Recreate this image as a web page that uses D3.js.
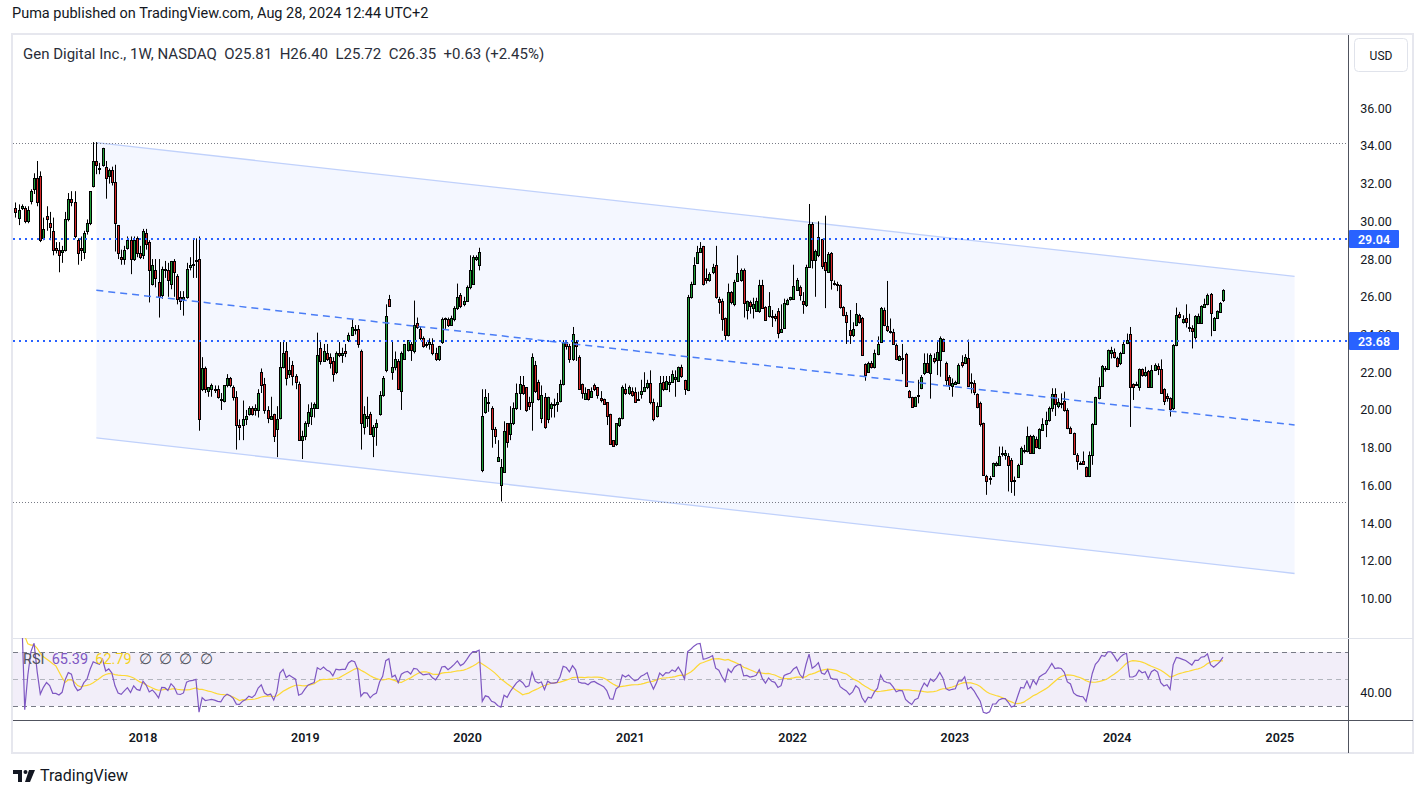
<!DOCTYPE html>
<html>
<head>
<meta charset="utf-8">
<script src="https://d3js.org/d3.v7.min.js"></script>
<style>
  body { margin: 0; background: #fff; }
  svg { display: block; font-family: Roboto, "Liberation Sans", sans-serif; }
</style>
</head>
<body>
<script type="text/javascript">

// weekly candles [open, high, low, close], first week starts 2017-03-20
var firstWeek = new Date(2017, 2, 20);
var candles = [
[30.7,31.0,30.2,30.5],[30.2,30.9,29.8,30.6],[30.7,30.9,30.6,30.8],[30.7,30.8,29.9,30.0],[30.0,30.8,29.9,30.6],
[31.1,31.7,30.9,31.6],[31.7,32.55,31.45,32.3],[32.3,33.2,30.8,31.0],[32.4,32.65,28.9,29.0],[29.1,30.2,29.0,29.6],
[30.3,30.8,29.5,30.1],[29.9,30.5,29.0,29.7],[29.5,30.2,28.2,28.5],[28.6,28.9,28.3,28.5],[28.5,28.9,27.3,28.2],
[28.4,28.7,27.8,28.5],[28.5,30.5,28.4,30.1],[30.1,31.5,30.0,31.2],[31.2,31.6,30.8,31.0],[31.0,31.6,29.1,29.2],
[29.0,29.1,27.7,28.3],[28.6,29.2,27.9,28.5],[28.4,29.5,28.0,29.4],[29.5,30.1,29.3,29.9],[29.9,31.6,29.8,31.6],
[31.9,34.2,31.8,33.2],[33.2,34.2,32.5,33.0],[32.8,33.1,32.5,32.85],[33.0,33.9,32.9,33.9],[32.9,33.2,31.2,32.3],
[32.4,32.8,32.0,32.7],[32.7,32.9,31.9,32.1],[32.1,33.0,28.4,29.9],[29.8,29.8,28.0,28.3],[28.1,28.5,27.7,28.0],
[28.0,28.7,27.7,28.5],[28.6,29.2,28.5,29.0],[29.0,29.2,27.2,28.0],[28.0,29.2,27.9,29.0],[29.1,29.2,28.1,28.3],
[28.3,28.7,28.0,28.1],[28.2,29.6,28.0,29.5],[29.4,29.6,28.5,28.8],[28.9,29.0,25.7,27.4],[26.7,28.0,26.6,27.7],
[27.4,28.0,26.5,27.0],[26.8,28.0,24.9,26.0],[26.1,27.6,25.9,27.5],[27.4,27.9,27.0,27.45],[27.4,27.8,26.0,26.9],
[26.7,27.9,26.4,27.9],[27.9,28.0,26.0,27.3],[27.1,27.2,25.6,25.9],[26.0,26.3,25.3,25.8],[25.9,26.3,25.0,26.0],
[26.0,27.8,25.9,27.5],[27.6,28.1,27.4,27.7],[27.7,29.1,27.0,27.75],[27.95,29.1,27.0,27.9],[28.0,29.2,18.9,19.5],
[21.1,22.8,21.0,22.2],[22.2,22.3,20.9,21.1],[21.0,21.2,20.7,21.2],[21.1,21.4,20.7,21.3],[21.1,21.3,20.9,21.1],
[21.1,21.3,20.6,20.7],[20.6,20.9,20.0,20.55],[20.5,21.3,20.4,21.3],[21.3,21.9,21.2,21.7],[21.7,21.75,21.2,21.3],
[21.2,21.3,20.5,20.7],[20.7,21.0,17.9,19.2],[19.2,19.5,18.4,19.1],[19.2,20.5,18.4,19.5],[19.5,20.0,19.2,19.7],
[19.8,20.2,19.7,20.1],[20.1,20.2,19.7,19.8],[20.0,20.3,19.7,20.1],[20.0,21.1,19.6,20.9],[22.0,22.2,20.9,21.3],
[21.4,21.7,19.8,20.0],[20.0,20.2,19.3,19.6],[19.5,20.7,19.5,19.7],[19.8,19.8,18.3,18.6],[19.0,20.2,17.5,19.5],
[19.6,23.6,19.5,22.3],[22.3,23.7,22.2,23.0],[23.1,23.6,21.3,21.7],[21.9,22.8,21.7,22.1],[22.4,22.6,21.3,21.8],
[21.8,21.9,21.1,21.5],[21.4,21.5,18.4,18.4],[18.4,18.9,17.4,18.6],[18.6,19.4,18.4,19.3],[19.3,20.3,19.1,19.9],
[19.7,20.4,19.2,20.1],[20.1,20.4,19.6,20.3],[20.1,24.1,20.1,22.9],[23.3,23.6,22.4,22.6],[22.6,23.5,22.6,23.1],
[23.0,23.5,22.6,22.7],[22.8,23.0,22.2,22.5],[22.6,22.8,21.5,21.9],[22.0,23.1,21.9,23.0],[23.0,23.6,22.8,22.9],
[22.9,23.3,22.5,23.0],[23.1,23.5,22.8,23.0],[23.7,24.1,23.6,24.0],[24.0,24.8,24.0,24.4],[24.3,24.5,24.0,24.3],
[24.3,24.5,23.3,23.5],[23.1,23.2,17.9,19.3],[19.1,20.2,18.7,19.8],[19.6,20.7,19.1,19.7],[19.8,19.9,18.7,18.7],
[18.6,19.2,17.5,19.1],[19.1,19.5,18.1,19.3],[19.8,21.0,19.7,20.8],[20.8,21.8,20.7,21.7],[22.1,25.6,22.0,25.0],
[25.9,26.1,25.5,25.5],[22.0,23.7,21.6,22.3],[22.3,23.1,22.1,22.7],[22.6,22.7,21.1,21.1],[21.0,23.1,20.0,23.0],
[22.7,23.5,22.7,23.5],[23.2,23.7,23.1,23.7],[23.5,23.6,22.6,23.2],[23.1,25.8,23.0,24.5],[24.6,24.9,24.3,24.4],
[24.3,24.4,23.7,23.8],[23.8,23.9,23.3,23.4],[23.5,23.6,23.3,23.5],[23.5,23.8,23.2,23.6],[23.5,23.8,22.9,23.0],
[23.0,23.3,22.6,22.7],[22.7,23.4,22.6,23.4],[23.6,24.9,23.5,24.8],[24.8,24.9,24.3,24.9],[24.8,24.9,24.4,24.5],
[24.5,25.0,24.5,24.9],[24.8,25.5,24.7,25.4],[25.4,26.7,25.3,26.0],[26.1,26.2,25.4,25.5],[25.6,26.0,25.5,25.8],
[25.8,26.6,25.8,26.5],[26.5,28.2,26.4,27.4],[26.7,28.2,26.7,28.1],[28.0,28.2,27.9,28.1],[27.7,28.6,27.4,28.4],
[16.8,21.1,16.7,19.7],[19.9,21.1,19.8,20.7],[20.4,20.9,19.9,20.4],[20.1,20.2,18.0,19.0],[19.0,19.1,18.2,18.6],
[17.3,18.4,17.3,17.5],[16.0,17.4,15.15,17.0],[16.7,19.4,16.7,18.9],[19.3,19.3,18.0,18.3],[18.7,20.2,18.4,19.3],
[19.3,20.4,19.2,20.1],[20.1,21.4,20.0,20.9],[20.9,21.8,20.0,21.4],[21.3,21.8,20.8,20.9],[21.2,21.2,19.9,20.0],
[20.4,20.7,20.0,20.2],[20.4,23.0,18.9,22.8],[22.4,22.6,20.9,21.0],[21.5,21.6,20.5,20.6],[19.6,21.3,19.3,20.8],
[20.7,20.9,19.0,19.1],[19.5,20.7,19.3,20.7],[20.1,20.4,19.6,20.3],[20.3,20.6,19.6,20.3],[20.3,20.9,19.9,20.4],
[20.5,21.6,20.4,21.4],[21.4,23.7,21.3,23.6],[23.6,23.7,23.2,23.4],[23.4,23.5,22.5,22.7],[22.7,24.4,22.6,24.05],
[23.6,23.7,22.6,23.4],[22.8,22.9,21.1,21.1],[21.4,21.4,20.6,20.9],[20.6,21.2,20.6,20.9],[21.1,21.1,20.5,20.6],
[20.7,21.2,20.7,21.0],[21.3,21.4,21.0,21.1],[21.2,21.2,20.6,20.8],[20.65,21.0,20.4,20.55],[20.6,20.6,20.3,20.3],
[20.4,20.4,19.2,19.7],[19.8,19.8,18.2,18.2],[18.4,18.4,18.1,18.1],[18.2,19.3,18.1,19.3],[19.2,19.6,19.1,19.6],
[19.6,21.3,19.5,21.2],[21.1,21.4,20.8,20.9],[20.9,21.3,20.8,21.2],[21.0,21.2,20.7,20.8],[20.97,21.2,20.4,20.44],
[20.6,20.97,20.5,20.6],[20.85,21.6,20.6,21.0],[21.0,22.0,20.95,21.2],[21.2,21.6,21.1,21.45],[21.45,22.1,20.3,20.4],
[20.4,20.6,19.4,19.5],[19.7,20.4,19.6,20.2],[20.2,21.8,20.2,21.45],[21.5,21.8,21.0,21.1],[21.1,21.8,21.05,21.55],
[21.4,21.8,20.95,21.5],[21.5,22.1,21.5,21.9],[21.65,22.1,20.7,21.75],[21.55,22.3,21.5,22.3],[22.3,22.4,21.7,21.8],
[21.6,21.6,20.8,21.1],[21.05,26.1,21.0,26.0],[26.0,26.8,25.9,26.7],[26.7,28.1,26.7,27.66],[27.8,28.7,27.8,28.4],
[28.4,28.9,28.4,28.6],[28.7,28.7,26.6,26.7],[27.0,27.5,26.7,26.9],[26.9,27.3,26.8,27.2],[27.3,27.75,27.2,27.6],
[27.7,28.7,25.9,26.0],[25.9,26.0,25.1,25.7],[25.8,25.9,24.2,24.8],[24.85,24.9,23.7,23.96],[23.96,26.7,23.9,26.25],
[26.25,26.3,25.6,25.7],[25.6,26.9,25.5,26.8],[26.84,28.2,26.8,27.26],[26.9,27.5,26.8,27.4],[27.43,27.5,24.9,25.67],
[25.32,25.8,24.8,25.76],[25.7,25.8,25.1,25.5],[25.4,25.95,24.85,25.6],[25.25,25.95,25.2,25.78],[25.25,26.9,25.15,26.64],
[26.64,26.9,25.4,25.43],[25.46,25.5,24.76,24.76],[24.97,26.25,24.9,25.5],[25.0,25.3,24.4,25.0],[25.0,25.1,24.7,24.85],
[25.25,25.4,23.8,24.09],[24.14,25.6,24.09,24.3],[24.37,25.9,24.3,25.67],[25.6,25.9,25.55,25.85],[25.9,26.0,25.8,26.0],
[25.9,27.7,25.85,26.57],[26.38,27.0,26.35,26.87],[26.5,26.6,25.8,26.08],[25.76,26.25,25.1,25.64],[25.55,27.7,25.46,27.6],
[27.58,30.92,27.55,29.87],[29.87,29.95,27.5,27.96],[27.93,28.5,26.0,28.42],[28.19,30.0,28.1,29.16],[29.07,29.07,27.47,27.61],
[27.84,30.3,25.4,27.4],[27.3,28.37,27.26,28.28],[28.3,28.37,26.38,26.9],[26.7,26.87,26.6,26.72],[26.66,26.8,26.3,26.7],
[26.6,26.66,25.37,25.46],[25.46,25.5,24.97,25.02],[25.02,25.2,23.5,24.67],[24.26,25.3,23.5,23.96],[23.96,24.65,23.87,24.3],
[24.49,25.67,24.44,25.07],[25.02,25.1,24.58,24.67],[24.85,24.93,22.9,22.94],[22.43,22.47,21.55,21.85],[22.03,22.56,21.97,22.47],
[22.47,22.6,22.2,22.29],[22.29,23.2,22.2,23.03],[22.96,23.9,22.9,23.5],[23.61,25.46,23.56,25.43],[25.28,25.43,24.44,24.49],
[24.44,26.84,24.14,24.23],[24.19,24.85,24.05,24.14],[24.14,24.3,23.49,23.52],[23.44,23.52,22.64,22.68],[22.64,22.9,22.6,22.85],
[22.75,23.5,21.9,22.78],[22.99,23.03,21.23,21.27],[21.02,21.06,20.62,20.67],[20.67,20.7,20.14,20.18],[20.2,20.7,20.18,20.67],
[20.8,21.6,20.35,20.8],[21.15,21.85,21.1,21.76],[21.94,23.0,21.85,22.5],[22.5,23.0,21.97,22.03],[21.94,23.0,20.6,22.94],
[22.78,23.0,22.47,22.61],[22.64,23.6,21.85,23.08],[22.64,23.9,21.76,23.79],[23.74,23.79,23.08,23.14],[22.5,22.56,21.32,21.6],
[21.73,21.85,21.06,21.32],[21.27,21.67,20.7,21.44],[21.4,21.55,21.35,21.5],[21.45,22.47,21.4,22.38],[22.55,22.9,22.25,22.38],
[22.47,22.96,22.43,22.82],[22.78,23.73,21.23,21.27],[21.5,21.94,20.88,21.5],[21.44,21.58,20.79,20.97],[20.85,20.88,20.09,20.14],
[20.35,20.44,19.12,19.26],[19.3,19.33,16.51,16.56],[16.51,16.56,15.5,16.26],[16.4,16.5,16.04,16.4],[16.51,17.21,16.48,17.18],
[17.1,17.26,17.0,17.2],[17.09,18.06,17.04,17.57],[17.7,18.06,17.53,17.7],[17.62,17.88,17.36,17.71],[17.57,17.71,15.68,17.09],
[17.36,17.45,15.6,16.21],[16.25,16.47,15.45,16.3],[16.47,17.15,16.44,17.09],[17.15,18.06,17.09,17.97],[17.85,18.15,17.7,17.88],
[17.8,19.12,17.75,18.63],[18.63,18.68,17.67,17.71],[17.71,18.68,17.67,18.63],[18.45,18.59,17.97,18.06],[17.97,19.03,17.92,18.98],
[18.94,19.56,18.9,19.26],[19.26,19.91,18.56,19.47],[19.47,20.18,19.38,20.09],[20.09,21.15,19.91,20.83],[20.83,21.15,19.68,20.32],
[20.2,20.62,20.09,20.4],[20.3,20.88,20.09,20.35],[20.49,20.97,19.91,20.0],[20.0,20.09,18.98,19.03],[19.03,19.12,18.76,18.8],
[18.76,18.8,17.62,17.67],[17.62,17.71,16.83,17.32],[17.2,17.27,17.1,17.18],[17.27,17.8,17.09,17.13],[16.97,17.0,16.44,16.48],
[16.48,17.8,16.44,17.62],[17.62,19.3,17.09,19.26],[19.26,20.7,19.21,20.67],[20.62,21.73,20.56,21.27],[21.27,22.38,21.23,22.33],
[22.2,22.33,22.03,22.25],[22.15,23.2,22.12,23.17],[23.03,23.35,22.73,23.17],[23.08,23.26,22.73,22.82],[22.73,22.82,22.26,22.33],
[22.47,23.08,22.38,23.03],[23.03,23.61,22.99,23.49],[23.56,24.05,23.49,23.73],[24.02,24.4,19.1,21.2],[21.37,21.41,20.53,21.2],
[21.37,21.5,21.27,21.4],[21.23,22.2,21.02,22.15],[22.15,22.2,21.76,21.85],[21.85,22.29,21.76,22.0],[22.08,22.12,21.2,21.23],
[21.23,22.38,21.2,22.12],[22.12,22.47,22.08,22.38],[22.33,22.47,21.85,22.15],[22.15,22.68,20.88,20.92],[21.09,21.15,20.26,20.49],
[20.74,20.88,20.44,20.62],[20.62,20.67,19.65,20.03],[20.09,23.49,20.0,23.44],[23.44,25.43,23.38,25.02],[25.07,25.2,24.85,24.93],
[24.67,25.02,24.58,24.8],[24.9,25.6,24.37,24.67],[24.4,25.1,24.14,24.42],[24.37,24.49,23.26,24.19],[23.88,25.02,23.73,24.97],
[24.6,25.11,24.58,24.97],[24.6,25.55,24.58,25.5],[25.46,25.9,25.43,25.6],[25.6,26.17,25.55,26.08],[26.17,26.2,23.91,25.14],
[24.26,24.93,24.23,24.9],[24.9,25.28,24.84,25.25],[25.2,25.72,25.14,25.67],[25.81,26.40,25.72,26.35]
];

var priceTicks = [10, 12, 14, 16, 18, 20, 22, 24, 26, 28, 30, 32, 34, 36];
var yearTicks = [2018, 2019, 2020, 2021, 2022, 2023, 2024, 2025];
var levels = [29.04, 23.68];            // blue dotted lines
var extremes = [34.17, 15.11];          // grey dotted lines
var channelDates = [new Date(2017, 8, 18), new Date(2025, 1, 3)];
var channelUpper = [34.17, 27.08];
var channelLower = [18.52, 11.33];
var rsiBands = [70, 50, 30];
var rsiTicks = [40];
var legendText = "Gen Digital Inc., 1W, NASDAQ  O25.81  H26.40  L25.72  C26.35  +0.63 (+2.45%)";
var rsiLegend = ["65.39", "62.79"];

function draw() {
    var width = 1426, height = 798;
    var left = 13, right = 1348, top = 35, paneBottom = 638, rsiBottom = 720;

    var svg = d3.select('body').append('svg')
        .attr('width', width).attr('height', height);

    var weeks = candles.map(function(d, i) { return d3.timeWeek.offset(firstWeek, i); });

    var x = d3.scaleTime().domain([weeks[0], weeks[weeks.length - 1]]).range([15.4, 1223]);
    var y = d3.scaleLinear().domain([7.91, 39.88]).range([paneBottom, top]);
    var yr = d3.scaleLinear().domain([19.6, 80.4]).range([rsiBottom, paneBottom]);

    var defs = svg.append('defs');
    defs.append('clipPath').attr('id', 'clipPrice').append('rect')
        .attr('x', left).attr('y', top).attr('width', right - left).attr('height', paneBottom - top);
    defs.append('clipPath').attr('id', 'clipRsi').append('rect')
        .attr('x', left).attr('y', paneBottom).attr('width', right - left).attr('height', rsiBottom - paneBottom);

    // header
    svg.append('text').attr('x', 12).attr('y', 18)
        .attr('font-size', 14.5).attr('fill', '#131722')
        .text('Puma published on TradingView.com, Aug 28, 2024 12:44 UTC+2');

    // frame
    svg.append('rect').attr('x', 12).attr('y', 34).attr('width', 1401).attr('height', 719)
        .attr('fill', 'none').attr('stroke', '#e6e7ee').attr('stroke-width', 2);

    var price = svg.append('g').attr('clip-path', 'url(#clipPrice)');

    // channel
    var cu = channelUpper.map(function(v, i) { return [x(channelDates[i]), y(v)]; });
    var cl = channelLower.map(function(v, i) { return [x(channelDates[i]), y(v)]; });
    price.append('path')
        .attr('d', d3.line()([cu[0], cu[1], cl[1], cl[0]]) + 'Z')
        .attr('fill', 'rgba(41,98,255,0.05)');
    [cu, cl].forEach(function(p) {
        price.append('path').attr('d', d3.line()(p))
            .attr('stroke', '#c0d1fb').attr('stroke-width', 1.3).attr('fill', 'none');
    });

    // candles
    var bars = price.selectAll('.candle').data(candles).enter().append('g').attr('class', 'candle');
    bars.append('line')
        .attr('x1', function(d, i) { return Math.round(x(weeks[i])) + 0.5; })
        .attr('x2', function(d, i) { return Math.round(x(weeks[i])) + 0.5; })
        .attr('y1', function(d) { return y(d[1]); })
        .attr('y2', function(d) { return y(d[2]); })
        .attr('stroke', '#000').attr('stroke-width', 1);
    bars.append('rect')
        .attr('x', function(d, i) { return Math.round(x(weeks[i])) - 0.5; })
        .attr('y', function(d) { return Math.round(y(Math.max(d[0], d[3]))) + 0.5; })
        .attr('width', 2)
        .attr('height', function(d) {
            return Math.max(Math.round(y(Math.min(d[0], d[3]))) - Math.round(y(Math.max(d[0], d[3]))), 1);
        })
        .attr('fill', function(d) { return d[3] >= d[0] ? '#1f9d37' : '#d62828'; })
        .attr('stroke', '#000').attr('stroke-width', 1);

    // drawings
    extremes.forEach(function(v) {
        price.append('line').attr('x1', left).attr('x2', right)
            .attr('y1', Math.round(y(v)) + 0.5).attr('y2', Math.round(y(v)) + 0.5)
            .attr('stroke', '#787b86').attr('stroke-dasharray', '1 2');
    });
    price.append('line')
        .attr('x1', x(channelDates[0])).attr('x2', x(channelDates[1]))
        .attr('y1', y((channelUpper[0] + channelLower[0]) / 2))
        .attr('y2', y((channelUpper[1] + channelLower[1]) / 2))
        .attr('stroke', '#4a7df6').attr('stroke-width', 1.5).attr('stroke-dasharray', '7 5');
    levels.forEach(function(v) {
        price.append('line').attr('x1', left).attr('x2', right)
            .attr('y1', Math.round(y(v))).attr('y2', Math.round(y(v)))
            .attr('stroke', '#2962ff').attr('stroke-width', 2).attr('stroke-dasharray', '2 4');
    });

    // legend
    svg.append('text').attr('x', 23).attr('y', 59)
        .attr('font-size', 15).attr('fill', '#2a2e39')
        .attr('xml:space', 'preserve').style('white-space', 'pre')
        .text(legendText);

    // price axis
    svg.append('line').attr('x1', right + 0.5).attr('x2', right + 0.5).attr('y1', 35).attr('y2', 753)
        .attr('stroke', '#50535e');
    svg.append('rect').attr('x', 1354.5).attr('y', 38.5).attr('width', 53).attr('height', 33).attr('rx', 4)
        .attr('fill', '#fff').attr('stroke', '#e0e3eb');
    svg.append('text').attr('x', 1381).attr('y', 59.5).attr('text-anchor', 'middle')
        .attr('font-size', 12).attr('fill', '#131722').text('USD');

    // a tick sitting under a level label shows only the part above the label
    defs.selectAll('.tickclip').data(levels).enter().append('clipPath')
        .attr('id', function(d, i) { return 'tickClip' + i; })
        .append('rect').attr('x', 1349).attr('width', 64)
        .attr('y', 35).attr('height', function(d) { return Math.round(y(d)) - 9 - 35; });
    svg.selectAll('.ptick').data(priceTicks).enter().append('text')
        .attr('x', 1376).attr('y', function(d) { return y(d) + 4.5; })
        .attr('clip-path', function(t) {
            var hit = -1;
            levels.forEach(function(v, i) { if (Math.abs(y(t) - y(v)) < 14 && y(t) < y(v)) hit = i; });
            return hit < 0 ? null : 'url(#tickClip' + hit + ')';
        })
        .attr('display', function(t) {
            return levels.some(function(v) { return Math.abs(y(t) - y(v)) < 14 && y(t) >= y(v); }) ? 'none' : null;
        })
        .attr('text-anchor', 'middle').attr('font-size', 12.5).attr('fill', '#131722')
        .text(function(d) { return d.toFixed(2); });

    levels.forEach(function(v) {
        var ly = Math.round(y(v));
        svg.append('rect').attr('x', 1349).attr('y', ly - 9).attr('width', 50).attr('height', 18)
            .attr('rx', 1).attr('fill', '#2962ff');
        svg.append('text').attr('x', 1374).attr('y', ly + 5).attr('text-anchor', 'middle')
            .attr('font-size', 12.5).attr('font-weight', 600).attr('fill', '#fff').text(v.toFixed(2));
    });

    // RSI pane
    svg.append('line').attr('x1', left).attr('x2', 1413).attr('y1', paneBottom + 0.5).attr('y2', paneBottom + 0.5)
        .attr('stroke', '#e0e3eb');
    var rsiG = svg.append('g').attr('clip-path', 'url(#clipRsi)');
    rsiG.append('rect').attr('x', left).attr('width', right - left)
        .attr('y', yr(rsiBands[0])).attr('height', yr(rsiBands[2]) - yr(rsiBands[0]))
        .attr('fill', 'rgba(126,87,194,0.1)');
    rsiBands.forEach(function(v, i) {
        rsiG.append('line').attr('x1', left).attr('x2', right)
            .attr('y1', Math.round(yr(v)) + 0.5).attr('y2', Math.round(yr(v)) + 0.5)
            .attr('stroke', i === 1 ? '#b2b5be' : '#787b86').attr('stroke-dasharray', '5 4');
    });

    var closes = candles.map(function(d) { return d[3]; });
    var rsi = [], up = 0, down = 0, n = 14;
    for (var i = 1; i < closes.length; i++) {
        var ch = closes[i] - closes[i - 1], k = Math.min(i, n);
        up = (up * (k - 1) + Math.max(ch, 0)) / k;
        down = (down * (k - 1) + Math.max(-ch, 0)) / k;
        rsi[i] = down === 0 ? 100 : 100 - 100 / (1 + up / down);
    }
    rsi[0] = rsi[1];
    var ma = rsi.map(function(v, i) { return d3.mean(rsi.slice(Math.max(0, i - n + 1), i + 1)); });

    var rsiLine = d3.line().x(function(d, i) { return x(weeks[i]); }).y(function(d) { return yr(d); });
    rsiG.append('path').attr('d', rsiLine(ma)).attr('fill', 'none')
        .attr('stroke', '#fdd835').attr('stroke-width', 1.2);
    rsiG.append('path').attr('d', rsiLine(rsi)).attr('fill', 'none')
        .attr('stroke', '#7e57c2').attr('stroke-width', 1.2);

    var rl = svg.append('text').attr('x', 23).attr('y', 664).attr('font-size', 14.5)
        .attr('xml:space', 'preserve').style('white-space', 'pre');
    rl.append('tspan').attr('fill', '#50535e').text('RSI  ');
    rl.append('tspan').attr('fill', '#7e57c2').text(rsiLegend[0] + '  ');
    rl.append('tspan').attr('fill', '#f5d21c').text(rsiLegend[1] + '  ');
    rl.append('tspan').attr('fill', '#50535e').text('\u2205  \u2205  \u2205  \u2205');

    svg.selectAll('.rtick').data(rsiTicks).enter().append('text')
        .attr('x', 1376).attr('y', function(d) { return yr(d) + 4.5; })
        .attr('text-anchor', 'middle').attr('font-size', 12.5).attr('fill', '#131722')
        .text(function(d) { return d.toFixed(2); });

    // time axis
    svg.append('line').attr('x1', left).attr('x2', 1413).attr('y1', rsiBottom + 0.5).attr('y2', rsiBottom + 0.5)
        .attr('stroke', '#50535e');
    svg.selectAll('.year').data(yearTicks).enter().append('text')
        .attr('x', function(d) { return x(new Date(d, 0, 1)); }).attr('y', 742)
        .attr('text-anchor', 'middle').attr('font-size', 12.5).attr('font-weight', 600).attr('fill', '#131722')
        .text(function(d) { return d; });

    // footer logo
    var logo = svg.append('g').attr('fill', '#131722');
    logo.append('path').attr('d', 'M13 770h9v12h-4v-8h-5z');
    logo.append('circle').attr('cx', 25.5).attr('cy', 772).attr('r', 2);
    logo.append('path').attr('d', 'M29 770h6l-5 12h-5z');
    svg.append('text').attr('x', 40).attr('y', 781).attr('font-size', 16).attr('fill', '#131722')
        .text('TradingView');
}

draw();
</script>
</body>
</html>
